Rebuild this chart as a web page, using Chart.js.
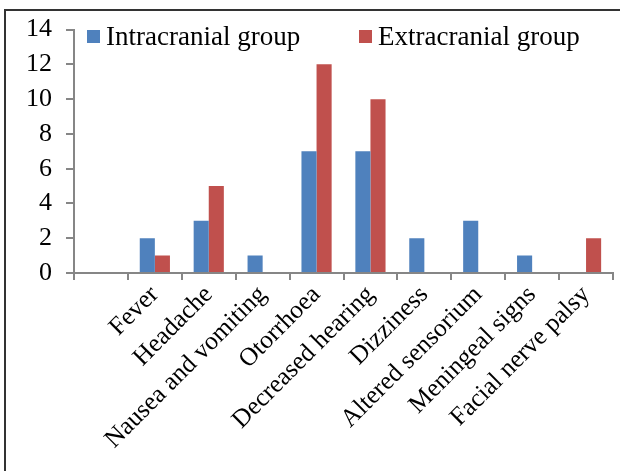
<!DOCTYPE html>
<html>
<head>
<meta charset="utf-8">
<script src="https://cdn.jsdelivr.net/npm/chart.js@4"></script>
<style>
  body { margin: 0; background: #fff; }
  #wrap { position: relative; width: 620px; height: 471px; }
  #frame { position: absolute; left: 4px; top: 9px; right: 0; bottom: 0;
           border-top: 2px solid #333; border-left: 2px solid #333; }
  canvas { position: absolute; left: 0; top: 0; }
</style>
</head>
<body>
<div id="wrap">
  <div id="frame"></div>
  <canvas id="symptoms" width="620" height="471"></canvas>
</div>
<script>
var categories = ['', 'Fever', 'Headache', 'Nausea and vomiting', 'Otorrhoea', 'Decreased hearing',
                  'Dizziness', 'Altered sensorium', 'Meningeal signs', 'Facial nerve palsy'];
var intracranial = [null, 2, 3, 1, 7, 7, 2, 3, 1, 0];
var extracranial = [null, 1, 5, 0, 12, 10, 0, 0, 0, 2];
var seriesNames = ['Intracranial group', 'Extracranial group'];
var yTicks = [0, 2, 4, 6, 8, 10, 12, 14];

var serif = 'Liberation Serif, Times New Roman, serif';

// legend sits inside the plot, so draw it by hand
var legendInside = {
  id: 'legendInside',
  afterDraw: function(chart) {
    var ctx = chart.ctx;
    var spots = [87, 359];
    ctx.save();
    ctx.font = '27px ' + serif;
    ctx.textBaseline = 'middle';
    chart.data.datasets.forEach(function(ds, i) {
      ctx.fillStyle = ds.backgroundColor;
      ctx.fillRect(spots[i], 30, 13, 13);
      ctx.fillStyle = '#000';
      ctx.fillText(ds.label, spots[i] + 19, 38);
    });
    ctx.restore();
  }
};

new Chart(document.getElementById('symptoms'), {
  type: 'bar',
  plugins: [legendInside],
  data: {
    labels: categories,
    datasets: [
      { label: seriesNames[0], data: intracranial, backgroundColor: '#4F81BD',
        categoryPercentage: 0.56, barPercentage: 1 },
      { label: seriesNames[1], data: extracranial, backgroundColor: '#C0504D',
        categoryPercentage: 0.56, barPercentage: 1 }
    ]
  },
  options: {
    responsive: false,
    animation: false,
    layout: { padding: { top: 27, right: 7, left: 0, bottom: 0 } },
    plugins: { legend: { display: false }, tooltip: { enabled: false } },
    scales: {
      x: {
        grid: { drawOnChartArea: false, color: '#868686', tickLength: 7, lineWidth: 2 },
        border: { color: '#868686', width: 2 },
        ticks: { color: '#000', font: { family: serif, size: 25.5 },
                 maxRotation: 45, minRotation: 45, autoSkip: false, padding: 0 },
        afterFit: function(scale) { scale.height = 198; }
      },
      y: {
        min: 0, max: 14,
        grid: { drawOnChartArea: false, color: '#868686', tickLength: 8, lineWidth: 2 },
        border: { color: '#868686', width: 2 },
        afterBuildTicks: function(scale) {
          scale.ticks = yTicks.map(function(v) { return { value: v }; });
        },
        ticks: { color: '#000', font: { family: serif, size: 26 }, padding: 14 },
        afterFit: function(scale) { scale.width = 74; }
      }
    }
  }
});
</script>
</body>
</html>
